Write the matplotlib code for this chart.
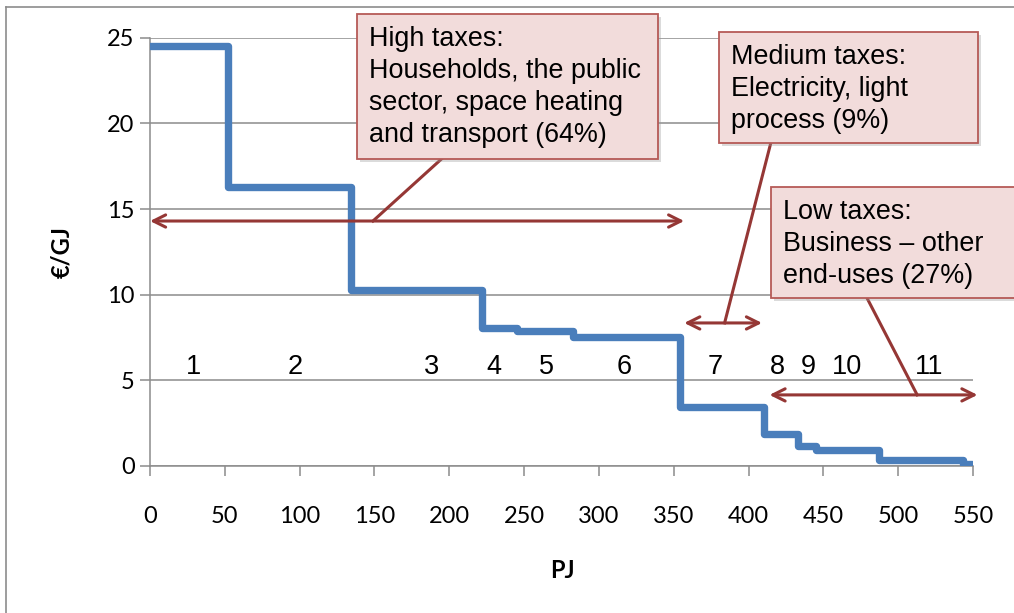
import matplotlib.pyplot as plt
from matplotlib.patches import Rectangle
from matplotlib.lines import Line2D

# Datos de la curva escalonada (PJ, EUR/GJ)
step_edges = [0, 52, 134, 222, 245, 283, 354, 410, 433, 445, 487, 543, 549]
step_values = [24.5, 16.3, 10.25, 8.05, 7.9, 7.55, 3.45, 1.85, 1.15, 0.95, 0.35, 0.12]

# Etiquetas de los tramos
seg_labels = ["1", "2", "3", "4", "5", "6", "7", "8", "9", "10", "11"]
seg_label_x = [29, 97, 188, 230, 265, 317, 378, 419, 440, 466, 521]
seg_label_y = 5.8

# Flechas dobles (inicio, fin, altura)
arrow_start = [0, 357, 414]
arrow_end = [357, 409, 553]
arrow_y = [14.3, 8.35, 4.15]

# Conectores desde las cajas hasta las flechas
conn_from = [(195.8, 18.0), (415, 18.9), (478.6, 9.9)]
conn_to = [(149, 14.3), (384, 8.35), (512.7, 4.15)]

box_texts = [
    "High taxes:\nHouseholds, the public\nsector, space heating\nand transport (64%)",
    "Medium taxes:\nElectricity, light\nprocess (9%)",
    "Low taxes:\nBusiness \u2013 other\nend-uses (27%)",
]
# cajas en pixeles: izquierda, arriba, derecha, abajo
box_px = [(357, 14, 658, 159), (719, 32, 978, 143), (771, 187, 1030, 298)]

W, H = 1014, 613
BLUE = "#4A7EBB"
RED = "#953735"
GRAY = "#8C8C8C"
TICK_FONT = "Lato"
TXT_FONT = "Liberation Sans"


def fx(px):
    return px / W


def fy(py):
    return 1 - py / H


fig = plt.figure(figsize=(W / 100, H / 100), dpi=100)
ax = fig.add_axes([fx(150), fy(466), fx(973) - fx(150), fy(37.7) - fy(466)])

# Marco del grafico
fig.add_artist(Line2D([fx(6), 1], [fy(7), fy(7)], color=GRAY, lw=1.2))
fig.add_artist(Line2D([fx(6), fx(6)], [0, fy(7)], color=GRAY, lw=1.2))

# Curva
ax.step(step_edges, step_values + [step_values[-1]], where="post",
        color=BLUE, lw=5.3, solid_joinstyle="round", solid_capstyle="round",
        zorder=3)

ax.set_xlim(0, 550)
ax.set_ylim(0, 25)
ax.set_xticks(range(0, 551, 50))
ax.set_yticks(range(0, 26, 5))
ax.grid(axis="y", color=GRAY, lw=1.1)
ax.set_axisbelow(True)
for s in ["top", "right"]:
    ax.spines[s].set_visible(False)
for s in ["left", "bottom"]:
    ax.spines[s].set_color(GRAY)
    ax.spines[s].set_linewidth(1.1)
ax.tick_params(axis="x", length=7, color=GRAY, width=1.1, pad=22, labelsize=17)
ax.tick_params(axis="y", length=7, color=GRAY, width=1.1, pad=4, labelsize=17)
for lab in ax.get_xticklabels() + ax.get_yticklabels():
    lab.set_family(TICK_FONT)

fig.text(fx(62), fy(252), "\u20ac/GJ", rotation=90, ha="center", va="center",
         fontsize=17, fontweight="bold", family=TICK_FONT)
fig.text(fx(562), fy(570), "PJ", ha="center", va="center",
         fontsize=17, fontweight="bold", family=TICK_FONT)

# Numeros de tramo
for lab, x in zip(seg_labels, seg_label_x):
    ax.text(x, seg_label_y, lab, ha="center", va="center", fontsize=19.5,
            family=TXT_FONT, zorder=4)

# Flechas
for x0, x1, y in zip(arrow_start, arrow_end, arrow_y):
    ax.annotate("", xy=(x0, y), xytext=(x1, y),
                arrowprops=dict(arrowstyle="<->", color=RED, lw=2.2,
                                mutation_scale=22, shrinkA=0, shrinkB=0),
                annotation_clip=False, zorder=5)

for (x0, y0), (x1, y1) in zip(conn_from, conn_to):
    ax.plot([x0, x1], [y0, y1], color=RED, lw=2.2, clip_on=False, zorder=5)

# Cajas de texto
for (l, t, r, b), txt in zip(box_px, box_texts):
    shadow = Rectangle((fx(l + 3), fy(b + 3)), fx(r - l), fy(t) - fy(b),
                       transform=fig.transFigure, facecolor="#9a9a9a",
                       edgecolor="none", alpha=0.35, zorder=6)
    box = Rectangle((fx(l), fy(b)), fx(r - l), fy(t) - fy(b),
                    transform=fig.transFigure, facecolor="#F2DCDB",
                    edgecolor="#B65A57", lw=1.3, zorder=7)
    fig.add_artist(shadow)
    fig.add_artist(box)
    fig.text(fx(l + 12), fy(t + 12), txt, ha="left", va="top", fontsize=19.4,
             family=TXT_FONT, linespacing=1.3, zorder=8)

fig.savefig("out.png", dpi=100)
